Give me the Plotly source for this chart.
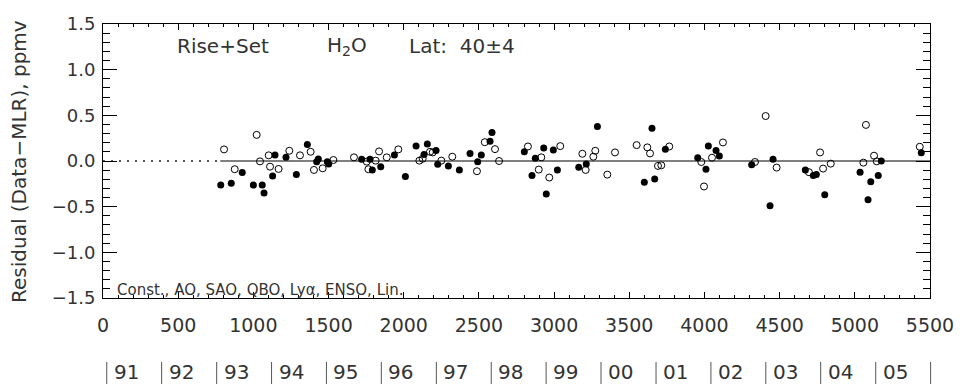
import plotly.graph_objects as go

# ---- data ----
filled_days = [783, 853, 926, 1000, 1059, 1071, 1128, 1144, 1217, 1286, 1359, 1421, 1432, 1492, 1501,
               1720, 1776, 1791, 1847, 1938, 2011, 2082, 2135, 2157, 2215, 2226, 2297, 2370, 2441,
               2492, 2516, 2574, 2587, 2802, 2853, 2875, 2931, 2948, 2995, 3022, 3164, 3214, 3288,
               3600, 3651, 3669, 3740, 3955, 4010, 4026, 4077, 4099, 4314, 4436, 4456, 4671, 4724,
               4744, 4800, 5035, 5088, 5106, 5156, 5176, 5442]
filled_resid = [-0.264, -0.243, -0.127, -0.264, -0.264, -0.351, -0.163, 0.065, 0.040, -0.149, 0.181,
                -0.007, 0.022, -0.007, -0.033,
                0.018, 0.018, -0.098, -0.062, 0.065, -0.171, 0.163, 0.072, 0.185, 0.116, -0.036,
                -0.054, -0.098, 0.083, -0.007, 0.065, 0.217, 0.311, 0.101, -0.159, 0.029, 0.141,
                -0.362, 0.120, -0.098, -0.069, -0.033, 0.377,
                -0.232, 0.359, -0.196, 0.130, 0.036, -0.090, 0.163, 0.116, 0.054, -0.040, -0.489,
                0.018, -0.098, -0.159, -0.149, -0.370, -0.123, -0.424, -0.228, -0.159, 0.000, 0.090]

open_days = [805, 876, 1022, 1044, 1102, 1111, 1168, 1239, 1310, 1381, 1403, 1461, 1532,
             1669, 1754, 1765, 1813, 1836, 1887, 1964, 2104, 2126, 2175, 2193, 2250, 2323, 2487,
             2539, 2607, 2634, 2826, 2898, 2915, 2968, 3041, 3188, 3210, 3261, 3274, 3354, 3405,
             3549, 3620, 3638, 3691, 3713, 3766, 3979, 3997, 4050, 4123, 4336, 4407, 4480, 4695,
             4769, 4789, 4840, 5057, 5074, 5128, 5146, 5432]
open_resid = [0.127, -0.090, 0.286, -0.004, 0.062, -0.062, -0.087, 0.112, 0.062, 0.101, -0.098, -0.080,
              0.011, 0.040, -0.007, -0.090, 0.004, 0.105, 0.040, 0.127, 0.004, 0.025, 0.101, 0.094,
              0.004, 0.047, -0.112, 0.206, 0.130, 0.000, 0.159, -0.094, 0.040, -0.181, 0.163, 0.079,
              -0.098, 0.047, 0.112, -0.149, 0.094, 0.174, 0.149, 0.083, -0.054, -0.047, 0.159,
              -0.011, -0.279, 0.036, 0.203, -0.011, 0.492, -0.072, -0.123, 0.094, -0.083, -0.029,
              -0.018, 0.395, 0.058, -0.004, 0.156]

dotted_zero_days = [0, 780]
solid_zero_days = [780, 5500]

x_tick_vals = [0, 500, 1000, 1500, 2000, 2500, 3000, 3500, 4000, 4500, 5000, 5500]
x_tick_labels = ["0", "500", "1000", "1500", "2000", "2500", "3000", "3500", "4000", "4500", "5000", "5500"]

year_labels = ["91", "92", "93", "94", "95", "96", "97", "98", "99", "00", "01", "02", "03", "04", "05"]
year_bar_days = [25, 390, 756, 1121, 1486, 1851, 2217, 2582, 2947, 3312, 3678, 4043, 4408, 4773,
                 5139, 5504]

X_MAX = 5500
FONT = "DejaVu Sans"
TXT = "#333333"

# plot-area geometry in pixels (for placing paper-referenced texts)
L, R, T, B = 103, 30, 24, 88
W, H = 960, 386
PW, PH = W - L - R, H - T - B


def px_x(px):
    return (px - L) / PW


def px_y(py):
    return (H - B - py) / PH


fig = go.Figure()

fig.add_trace(go.Scatter(x=dotted_zero_days, y=[0, 0], mode="lines",
                         line=dict(color="#555555", width=2, dash="2px,6px"),
                         showlegend=False, hoverinfo="skip"))
fig.add_trace(go.Scatter(x=solid_zero_days, y=[0, 0], mode="lines",
                         line=dict(color="#555555", width=1.6),
                         showlegend=False, hoverinfo="skip"))
fig.add_trace(go.Scatter(x=open_days, y=open_resid, mode="markers",
                         marker=dict(symbol="circle-open", size=7, color="black",
                                     line=dict(width=1, color="black")),
                         showlegend=False))
fig.add_trace(go.Scatter(x=filled_days, y=filled_resid, mode="markers",
                         marker=dict(symbol="circle", size=7, color="black"),
                         showlegend=False))

annotations = [
    dict(text="Rise+Set", xref="paper", yref="paper", x=px_x(175), y=px_y(46),
         xanchor="left", yanchor="middle", showarrow=False,
         font=dict(family=FONT, size=20, color=TXT)),
    dict(text="H<sub>2</sub>O", xref="paper", yref="paper", x=px_x(325), y=px_y(46),
         xanchor="left", yanchor="middle", showarrow=False,
         font=dict(family=FONT, size=20, color=TXT)),
    dict(text="Lat:  40±4", xref="paper", yref="paper", x=px_x(407), y=px_y(46),
         xanchor="left", yanchor="middle", showarrow=False,
         font=dict(family=FONT, size=20, color=TXT)),
    dict(text="Const., AO, SAO, QBO, Lyα, ENSO, Lin.", xref="paper", yref="paper",
         x=px_x(115), y=px_y(290), xanchor="left", yanchor="middle",
         showarrow=False, font=dict(family=FONT, size=15, color=TXT)),
    dict(text="Residual (Data\u2212MLR), ppmv", xref="paper", yref="paper",
         x=px_x(19), y=px_y(162), xanchor="center", yanchor="middle",
         textangle=-90, showarrow=False, font=dict(family=FONT, size=20, color=TXT)),
]
shapes = []
for d, lab in zip(year_bar_days, year_labels):
    annotations.append(dict(text=lab, xref="paper", yref="paper", x=d / X_MAX,
                            y=px_y(372), xanchor="left", yanchor="middle",
                            xshift=5, showarrow=False,
                            font=dict(family=FONT, size=20, color=TXT)))
for d in year_bar_days:
    shapes.append(dict(type="line", xref="paper", yref="paper",
                       x0=d / X_MAX, x1=d / X_MAX, y0=px_y(362), y1=px_y(384),
                       line=dict(color="#555555", width=1)))

fig.update_layout(
    width=W, height=H,
    margin=dict(l=L, r=R, t=T, b=B, autoexpand=False),
    paper_bgcolor="white", plot_bgcolor="white",
    annotations=annotations,
    shapes=shapes,
    font=dict(family=FONT, color=TXT),
    xaxis=dict(range=[0, X_MAX], showgrid=False, zeroline=False, automargin=False,
               showline=True, linecolor="black", linewidth=1, mirror="ticks",
               ticks="inside", ticklen=6, tickwidth=1, tickcolor="black",
               tickvals=x_tick_vals, ticktext=x_tick_labels,
               ticklabelstandoff=10,
               tickfont=dict(family=FONT, size=19, color=TXT),
               minor=dict(dtick=100, tick0=0, ticks="inside", ticklen=3, tickcolor="black",
                          showgrid=False)),
    yaxis=dict(range=[-1.5, 1.5], showgrid=False, zeroline=False, automargin=False,
               showline=True, linecolor="black", linewidth=1, mirror="ticks",
               ticks="inside", ticklen=14, tickwidth=1, tickcolor="black",
               dtick=0.5, tick0=0, tickformat=".1f",
               ticklabelstandoff=3,
               tickfont=dict(family=FONT, size=18, color=TXT),
               minor=dict(dtick=0.1, tick0=0, ticks="inside", ticklen=7, tickcolor="black",
                          showgrid=False)),
)

fig.write_html("out.html",
               config={"displayModeBar": False},
               post_script="document.body.style.margin='0';document.body.style.overflow='hidden';")
